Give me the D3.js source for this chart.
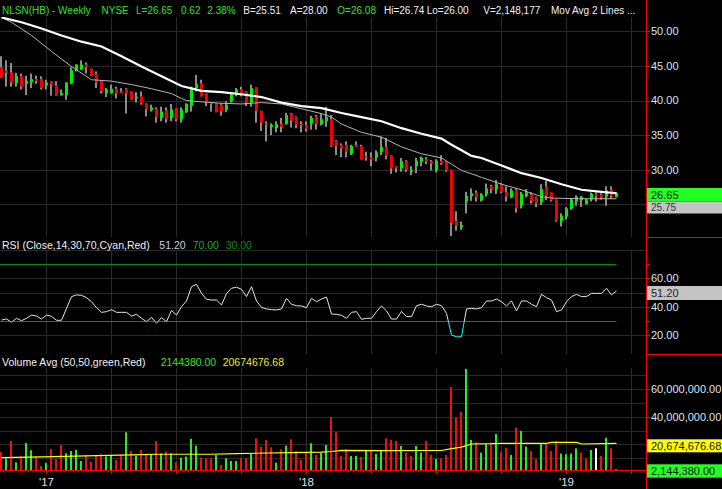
<!DOCTYPE html>
<html><head><meta charset="utf-8">
<script src="https://cdn.jsdelivr.net/npm/d3@7"></script>
<style>
body{margin:0;background:#000;}
svg{display:block;}
text{font-family:"Liberation Sans",Arial,sans-serif;}
</style>
</head><body>
<svg id="c" width="722" height="489"></svg>
<script>
// ---------- DATA (weekly bars, index 0..123) ----------
const openP = [44.8,44.3,44.1,42.5,43.5,42.4,42.6,43.1,43.1,42.2,
42.8,42.2,40.8,40.8,42.5,44.4,44.5,45.2,44.6,43.9,
42.8,41.1,41.1,41.7,41.3,41.7,41.3,40.3,40.6,39.6,
38.6,38.8,37.5,38.6,37.5,38.9,37.3,38.3,39.2,41.8,
42.5,41.0,39.7,39.6,39.4,38.7,39.9,40.8,41.6,41.3,
39.7,41.9,38.5,36.7,36.2,36.0,36.6,36.6,38.1,37.6,
36.6,36.5,36.7,37.7,36.6,37.0,37.3,34.2,33.6,33.6,
32.3,33.6,33.4,31.9,31.8,31.8,32.6,33.3,32.1,30.5,
30.2,31.3,29.7,30.5,31.2,31.5,31.2,29.9,31.3,31.2,
30.0,22.6,21.7,25.4,26.2,26.7,25.6,26.4,27.6,27.2,
27.9,26.8,26.0,27.1,24.9,26.2,26.4,26.0,25.3,27.6,
26.7,25.7,22.6,23.2,24.4,25.4,25.6,25.0,25.7,26.5,
26.4,26.1,27.1,26.08];
const highP = [46.4,45.8,45.4,44.0,43.9,43.6,43.9,43.6,43.5,43.0,
42.8,42.8,41.6,42.6,44.8,45.2,45.8,45.5,44.6,44.2,
42.8,41.8,42.3,42.0,41.8,41.8,41.3,41.2,41.3,39.6,
39.4,39.0,39.1,39.0,39.5,38.9,39.0,39.6,42.0,43.7,
43.0,41.0,39.7,39.6,39.6,39.9,41.0,41.8,42.0,41.3,
42.3,41.9,38.5,37.0,36.7,37.0,37.5,38.2,38.2,37.7,
37.0,37.0,37.8,37.9,38.1,39.1,37.9,34.3,33.8,34.1,
33.6,34.1,33.6,32.6,32.5,32.8,34.8,34.6,32.1,30.5,
31.7,31.4,30.5,31.7,31.9,31.8,31.4,31.5,32.1,31.2,
30.0,24.0,22.5,26.8,27.3,27.0,26.6,28.0,27.8,28.5,
28.1,27.6,27.3,27.3,26.8,27.2,26.7,26.1,27.9,28.4,
26.7,25.7,23.7,24.6,25.8,26.3,26.2,25.8,26.7,26.7,
26.6,27.6,27.6,26.74];
const lowP = [43.3,42.0,42.0,42.0,41.6,40.8,41.8,42.4,41.6,41.6,
40.7,40.7,40.7,40.1,42.4,44.2,44.4,43.9,43.5,41.8,
41.0,40.5,41.0,40.3,41.1,38.1,40.1,39.7,39.4,37.7,
38.4,36.8,37.0,36.8,37.0,37.0,36.8,38.2,38.4,41.3,
40.6,39.2,38.4,38.3,37.8,38.3,39.7,40.6,40.6,39.2,
39.1,36.8,35.6,34.1,35.0,35.4,35.4,36.5,36.1,36.0,
35.4,35.5,35.8,35.8,36.4,36.2,33.3,32.1,31.8,31.8,
32.1,33.3,31.4,31.3,30.5,31.2,32.1,31.5,29.4,29.6,
29.7,29.7,29.2,29.5,30.5,30.8,29.9,29.6,30.7,29.7,
20.4,21.2,21.3,23.7,25.5,25.4,25.4,26.1,26.6,26.5,
26.6,25.4,25.9,23.8,24.4,26.0,25.1,24.6,24.9,25.6,
25.4,22.5,21.8,22.8,24.2,24.8,24.6,25.0,25.4,25.4,
25.7,24.8,25.8,26.00];
const closeP = [43.4,44.0,42.6,43.5,42.0,42.8,43.1,42.8,41.8,42.6,
42.3,40.8,41.1,42.6,44.4,45.2,45.2,44.8,43.6,42.6,
41.3,41.6,41.7,41.0,41.1,41.0,40.1,40.5,39.6,38.7,
39.0,37.6,38.4,37.3,38.7,37.3,38.7,39.5,41.9,42.4,
40.6,39.7,39.5,38.3,38.4,39.4,40.9,41.6,41.1,39.7,
41.8,38.5,36.8,36.5,36.5,36.6,36.2,37.9,37.1,36.5,
36.4,35.9,37.5,36.6,37.3,37.6,33.4,33.4,33.1,32.6,
33.4,33.3,31.4,31.8,31.5,32.5,33.3,32.0,30.2,30.2,
31.2,30.0,29.9,31.3,31.7,31.2,30.9,31.3,30.9,29.9,
22.3,21.9,22.0,26.2,26.6,26.0,26.4,27.3,27.2,27.9,
26.8,26.1,27.0,24.4,26.5,26.8,25.5,25.1,27.2,26.2,
25.6,22.7,23.3,24.4,25.7,26.1,26.1,25.7,26.5,26.2,
26.0,27.0,26.2,26.65];
const maSlowIdx = [0,4,8,12,16,20,24,28,32,36,40,44,48,52,56,60,64,68,72,76,80,84,88,90,92,94,96,100,104,108,112,116,120,123];
const maSlowVal = [52.0,51.3,50.4,49.4,48.5,47.8,46.4,44.9,43.5,42.1,41.4,41.2,40.9,40.5,39.7,39.2,38.9,38.2,37.6,37.0,36.0,35.2,34.5,33.6,32.8,32.0,31.7,30.6,29.5,28.8,27.9,27.1,26.8,26.6];
const maFastIdx = [0,2,6,10,14,18,22,26,30,34,36,37,40,44,48,52,56,60,64,66,68,72,76,80,84,88,90,92,96,100,104,108,110,116,123];
const maFastVal = [52.0,51.3,49.4,47.1,44.9,43.0,42.8,42.3,41.7,41.0,40.3,40.0,39.8,39.6,39.5,39.7,39.5,38.8,38.1,37.6,36.6,35.4,34.7,33.3,32.3,31.7,30.8,29.9,28.9,27.9,27.1,26.1,25.9,25.8,25.8];
// RSI(14)
const rsi = [30.7,31.4,29.1,31.9,30.2,31.9,34.2,33.5,31.4,34.2,
33.3,30.5,30.5,38.9,47.2,48.4,48.1,46.5,43.6,39.4,
36.1,36.6,38.0,36.1,36.1,36.1,33.5,34.7,31.9,29.5,
32.6,28.4,32.4,29.5,37.5,34.2,40.1,44.1,54.2,55.9,
49.5,45.3,44.8,44.8,41.3,49.3,53.1,53.8,52.4,47.2,
54.2,44.1,39.6,38.5,38.0,37.8,38.5,46.0,41.8,40.8,
40.6,39.4,46.0,43.6,45.5,46.9,34.9,34.7,34.0,31.9,
36.1,36.6,31.2,31.9,31.9,36.6,40.6,37.1,31.4,31.4,
36.8,33.1,33.1,40.8,41.8,40.6,40.1,41.8,40.8,35.4,
20.1,18.9,18.9,38.5,38.9,38.5,39.4,44.1,44.1,45.5,
43.6,40.6,44.1,37.1,44.1,44.1,41.8,40.1,48.8,46.5,
44.8,36.6,37.8,43.6,47.2,48.8,47.2,47.2,49.5,49.5,
49.5,53.1,48.4,51.2];
// Volume (millions) and bar colour code: u = up, d = down, n = unchanged
const volumeM = [14.5,10.0,22.5,7.1,11.4,21.0,15.8,11.2,4.5,6.6,
16.7,9.5,19.6,13.6,15.3,16.0,8.1,12.4,7.6,12.4,
12.9,11.4,11.9,8.8,12.4,28.7,15.3,11.9,16.0,12.4,
12.9,22.5,13.4,14.8,13.4,7.1,10.5,11.2,23.9,19.1,
10.5,10.0,10.0,12.4,5.2,10.0,8.1,8.1,10.0,10.0,
13.4,24.4,18.4,23.2,17.9,6.9,16.4,19.1,23.7,15.3,
8.8,14.1,20.8,12.4,14.1,19.6,39.7,28.7,11.7,16.4,
11.7,11.7,11.0,16.0,15.3,13.1,15.3,24.4,23.2,22.5,
18.9,14.1,11.7,18.9,14.1,22.5,12.4,9.5,10.0,12.4,
61.3,39.3,43.6,74.3,23.2,21.5,14.1,20.1,21.3,27.5,
14.8,17.7,12.4,32.1,29.7,18.4,15.3,9.5,20.8,20.8,
15.3,22.5,13.4,12.9,13.4,17.2,14.1,10.0,16.0,17.2,
11.7,24.8,17.2,2.144];
const volDir = ["d","u","d","u","d","u","u","d","d","u",
"d","d","d","u","u","u","u","d","d","d",
"d","u","u","d","d","u","d","u","d","d",
"u","d","u","d","u","d","u","u","u","u",
"d","d","d","u","d","u","u","u","d","d",
"u","d","d","d","d","u","d","u","d","d",
"d","d","u","d","u","u","d","d","d","d",
"u","u","d","u","d","u","u","d","d","d",
"u","d","d","u","u","d","d","u","d","d",
"d","d","d","u","u","d","u","u","d","u",
"d","d","u","d","u","u","d","d","u","d",
"d","d","u","u","u","u","d","d","u","n",
"d","u","d","u"];
const volAvgIdx = [0,8,17,26,31,42,47,58,64,66,68,76,88,90,92,94,98,100,109,110,115,116,123];
const volAvgVal = [10.5,11.0,11.7,12.4,12.9,12.9,13.4,14.1,14.4,14.9,15.7,15.5,15.6,17.0,18.1,20.3,20.5,20.8,20.8,21.5,21.5,20.3,20.67];
// Axes
const quarterIdx = [9,22,35,48,61,74,87,100,113,126];
const yearIdx = [9,61,113];
const yearLabels = ["'17","'18","'19"];
const priceTicks = [50,45,40,35,30,25];
const priceTickLabels = ["50.00","45.00","40.00","35.00","30.00"];
const rsiGrid = [20,40,50,60,80];
const rsiTickLabels = [[60,"60.00"],[40,"40.00"],[20,"20.00"]];
const volGridM = [10,20,30,40,50,60,70];
const volTickLabels = [[60,"60,000,000.00"],[40,"40,000,000.00"]];

// ---------- LAYOUT ----------
const W=722,H=489,PR=646;
const P={top:17,bot:237}, R={top:250,bot:354}, V={top:368,bot:471};
const svg=d3.select("#c");
svg.append("rect").attr("width",W).attr("height",H).attr("fill","#000");
const x=d3.scaleLinear().domain([0,129]).range([1.5,646.5]);
const yP=d3.scaleLinear().domain([30,50]).range([169.7,31.3]);
const yR=d3.scaleLinear().domain([30,70]).range([321,264.3]);
const yV=d3.scaleLinear().domain([0,60]).range([472.2,388.8]);
const grid="#2a2a2a";
const crisp=v=>Math.round(v)+0.5;
const defs=svg.append("defs");
function clip(id,y0,y1){defs.append("clipPath").attr("id",id).append("rect").attr("x",0).attr("y",y0).attr("width",PR).attr("height",y1-y0);}
clip("cp",P.top,P.bot); clip("cr",R.top,R.bot); clip("cv",V.top,V.bot);
defs.append("clipPath").attr("id","rAbove").append("rect").attr("x",0).attr("y",R.top).attr("width",PR).attr("height",yR(30)-R.top);
defs.append("clipPath").attr("id","rBelow").append("rect").attr("x",0).attr("y",yR(30)).attr("width",PR).attr("height",R.bot-yR(30));

// vertical grid
const gv=svg.append("g").attr("stroke",grid).attr("stroke-width",1);
[P,R,V].forEach(pn=>{
  gv.selectAll(null).data(quarterIdx).join("line")
   .attr("x1",d=>crisp(x(d)-0.5)).attr("x2",d=>crisp(x(d)-0.5)).attr("y1",pn.top).attr("y2",pn.bot);
});
// horizontal grid
gv.selectAll(null).data(priceTicks).join("line").attr("x1",0).attr("x2",PR).attr("y1",d=>crisp(yP(d))).attr("y2",d=>crisp(yP(d)));
gv.selectAll(null).data(rsiGrid).join("line").attr("x1",0).attr("x2",PR).attr("y1",d=>crisp(yR(d))).attr("y2",d=>crisp(yR(d)));
gv.selectAll(null).data(volGridM).join("line").attr("x1",0).attr("x2",PR).attr("y1",d=>crisp(yV(d))).attr("y2",d=>crisp(yV(d)));

// ---------- PRICE ----------
const idx=d3.range(closeP.length);
const gp=svg.append("g").attr("clip-path","url(#cp)");
gp.selectAll("rect.w").data(idx).join("rect").attr("class","w")
  .attr("x",i=>x(i)-1.5).attr("width",2)
  .attr("y",i=>yP(highP[i])).attr("height",i=>Math.max(1,yP(lowP[i])-yP(highP[i])))
  .attr("fill","#8c8c8c");
gp.selectAll("rect.b").data(idx).join("rect").attr("class","b")
  .attr("x",i=>x(i)-1.5).attr("width",3)
  .attr("y",i=>yP(Math.max(openP[i],closeP[i])))
  .attr("height",i=>Math.max(1.2,Math.abs(yP(openP[i])-yP(closeP[i]))))
  .attr("fill",i=>closeP[i]>=openP[i]?"#00ee00":"#f00000");
const lineP=d3.line().x(d=>x(d[0])).y(d=>yP(d[1]));
gp.append("path").datum(maFastIdx.map((d,k)=>[d,maFastVal[k]])).attr("d",lineP)
  .attr("fill","none").attr("stroke","#b4b4b4").attr("stroke-width",1);
gp.append("path").datum(maSlowIdx.map((d,k)=>[d,maSlowVal[k]])).attr("d",lineP)
  .attr("fill","none").attr("stroke","#ffffff").attr("stroke-width",2.2);

// ---------- RSI ----------
const gr=svg.append("g").attr("clip-path","url(#cr)");
[70,30].forEach(v=>{
  gr.append("line").attr("x1",0).attr("x2",x(closeP.length-1)).attr("y1",crisp(yR(v))).attr("y2",crisp(yR(v)))
    .attr("stroke","#0c8a0c").attr("stroke-width",1);
});
const lineR=d3.line().x(i=>x(i)).y(i=>yR(rsi[i]));
gr.append("path").datum(idx).attr("d",lineR).attr("fill","none").attr("stroke","#e6e6e6").attr("stroke-width",1).attr("clip-path","url(#rAbove)");
gr.append("path").datum(idx).attr("d",lineR).attr("fill","none").attr("stroke","#00ffff").attr("stroke-width",1).attr("clip-path","url(#rBelow)");

// ---------- VOLUME ----------
const gvo=svg.append("g").attr("clip-path","url(#cv)");
const vcol={u:"#22ee22",d:"#f01010",n:"#ffffff"};
gvo.selectAll("rect").data(idx).join("rect")
  .attr("x",i=>x(i)-1.5).attr("width",2)
  .attr("y",i=>yV(volumeM[i])).attr("height",i=>yV(0)-yV(volumeM[i]))
  .attr("fill",i=>vcol[volDir[i]]);
gvo.append("path").datum(volAvgIdx.map((d,k)=>[d,volAvgVal[k]]))
  .attr("d",d3.line().x(d=>x(d[0])).y(d=>yV(d[1])))
  .attr("fill","none").attr("stroke","#ffff00").attr("stroke-width",1.2);

// ---------- AXES / FRAME ----------
const red="#ff0000";
svg.append("line").attr("x1",0).attr("x2",PR).attr("y1",470.5).attr("y2",470.5).attr("stroke",red);
svg.selectAll(null).data(quarterIdx).join("line")
  .attr("x1",d=>crisp(x(d)-0.5)).attr("x2",d=>crisp(x(d)-0.5)).attr("y1",471).attr("y2",474).attr("stroke",red);
svg.selectAll(null).data(yearIdx).join("text")
  .attr("x",d=>x(d)).attr("y",486).attr("text-anchor","middle").attr("font-size",11.5)
  .attr("fill","#dde4f0").text((d,k)=>yearLabels[k]);
svg.append("line").attr("x1",PR+0.5).attr("x2",PR+0.5).attr("y1",0).attr("y2",H).attr("stroke",red);
[237.5,354.5].forEach(y=>svg.append("line").attr("x1",PR).attr("x2",W).attr("y1",y).attr("y2",y).attr("stroke",red));
function ticks(ys){svg.selectAll(null).data(ys).join("line").attr("x1",PR).attr("x2",PR+4).attr("y1",d=>crisp(d)).attr("y2",d=>crisp(d)).attr("stroke",red);}
ticks(priceTicks.slice(0,5).map(yP));
ticks([70,60,40,30,20].map(yR));
ticks([60,40].map(yV));
const axFill="#dde4f0";
function lab(y,t){svg.append("text").attr("x",651).attr("y",y).attr("dy","0.36em").attr("font-size",11).attr("fill",axFill).text(t);}
priceTickLabels.forEach((t,k)=>lab(yP(priceTicks[k]),t));
rsiTickLabels.forEach(d=>lab(yR(d[0]),d[1]));
volTickLabels.forEach(d=>lab(yV(d[0]),d[1]));
function box(y0,y1,fill,t,tc,fs){
  svg.append("rect").attr("x",PR+1).attr("y",y0).attr("width",W-PR-1).attr("height",y1-y0).attr("fill",fill);
  svg.append("text").attr("x",651).attr("y",(y0+y1)/2).attr("dy","0.36em").attr("font-size",fs||11).attr("fill",tc).text(t);
}
box(201.7,213.5,"#c4c4c4","25.75","#333",10);
box(188,201.7,"#22ff22","26.65","#111");
box(286,300,"#c4c4c4","51.20","#222");
box(439.3,452.3,"#ffff00","20,674,676.68","#111");
box(464.3,477.7,"#22ff22","2,144,380.00","#111");

// ---------- TITLES ----------
function seg(arr,y,fs){arr.forEach(s=>svg.append("text").attr("x",s[1]).attr("y",y).attr("font-size",fs).attr("fill",s[2]).text(s[0]));}
const G="#2ee02e",Wt="#f2f2f2";
seg([["NLSN(HB) - Weekly",2,G],["NYSE",101.5,G],["L=26.65",136,G],["0.62",181,G],["2.38%",207.3,G],
     ["B=25.51",243.3,Wt],["A=28.00",290,Wt],["O=26.08",337.3,G],["Hi=26.74",384,Wt],["Lo=26.00",426.7,Wt],
     ["V=2,148,177",483.3,Wt],["Mov Avg 2 Lines ...",551,Wt]],14,10);
seg([["RSI (Close,14,30,70,Cyan,Red)",2,Wt],["51.20",159.3,"#c8d0dc"],["70.00",192.7,"#22a822"],["30.00",225.7,"#128a12"]],249,10.5);
seg([["Volume Avg (50,50,green,Red)",2,Wt],["2144380.00",160.7,"#2ee62e"],["20674676.68",222.7,"#e8e840"]],365.5,10.5);
</script>
</body></html>
